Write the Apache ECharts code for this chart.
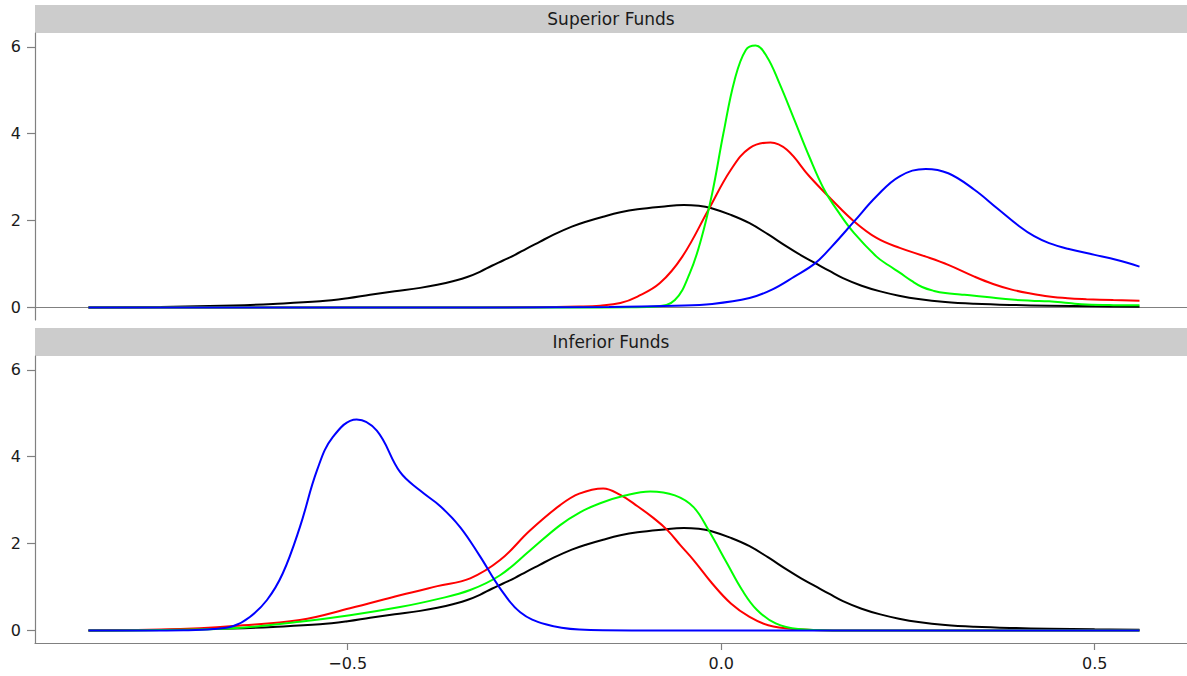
<!DOCTYPE html>
<html>
<head>
<meta charset="utf-8">
<title>Fund return densities</title>
<script src="https://cdn.jsdelivr.net/npm/echarts@6/dist/echarts.min.js"></script>
<style>
  html, body { margin: 0; padding: 0; background: #ffffff; }
  #chart { width: 1187px; height: 676px; }
</style>
</head>
<body>
<div id="chart"></div>
<script>
// Panel titles
const panelTitles = ['Superior Funds', 'Inferior Funds'];

// Tick values
const xTicks = [-0.5, 0, 0.5];
const yTicks = [0, 2, 4, 6];

// Density of all funds (black), same in both panels: [return, density]
const allFunds = [
  [-0.847, 0], [-0.75, 0.01], [-0.653, 0.045], [-0.6, 0.08], [-0.537, 0.14],
  [-0.5, 0.21], [-0.47, 0.29], [-0.437, 0.37], [-0.403, 0.45], [-0.38, 0.52],
  [-0.358, 0.61], [-0.34, 0.70], [-0.323, 0.82], [-0.307, 0.96], [-0.292, 1.08],
  [-0.276, 1.21], [-0.261, 1.35], [-0.243, 1.51], [-0.225, 1.67], [-0.2, 1.86],
  [-0.18, 1.98], [-0.158, 2.09], [-0.135, 2.19], [-0.112, 2.26], [-0.08, 2.32],
  [-0.05, 2.36], [-0.03, 2.34], [-0.014, 2.29], [0.013, 2.13], [0.038, 1.94],
  [0.063, 1.68], [0.088, 1.40], [0.107, 1.20], [0.126, 1.02], [0.145, 0.84],
  [0.163, 0.676], [0.188, 0.50], [0.213, 0.369], [0.238, 0.27], [0.264, 0.193],
  [0.3, 0.125], [0.339, 0.085], [0.39, 0.056], [0.439, 0.04], [0.5, 0.025],
  [0.56, 0.016]
];

// Superior funds
const supRed = [
  [-0.847, 0], [-0.6, 0], [-0.4, 0], [-0.25, 0.005], [-0.19, 0.02], [-0.162, 0.04],
  [-0.135, 0.10], [-0.112, 0.25], [-0.082, 0.56], [-0.052, 1.17], [-0.017, 2.25],
  [0.013, 3.17], [0.038, 3.67], [0.066, 3.80], [0.088, 3.63], [0.118, 3.02],
  [0.148, 2.48], [0.178, 1.98], [0.208, 1.60], [0.239, 1.37], [0.274, 1.17],
  [0.304, 0.98], [0.339, 0.71], [0.364, 0.54], [0.389, 0.41], [0.414, 0.32],
  [0.439, 0.25], [0.464, 0.21], [0.489, 0.19], [0.525, 0.17], [0.56, 0.155]
];
const supGreen = [
  [-0.847, 0], [-0.6, 0], [-0.4, 0], [-0.2, 0], [-0.12, 0.005], [-0.087, 0.02],
  [-0.062, 0.17], [-0.042, 0.79], [-0.027, 1.56], [-0.012, 2.63], [0.003, 4.01],
  [0.018, 5.24], [0.033, 5.93], [0.046, 6.03], [0.061, 5.78], [0.078, 5.16],
  [0.098, 4.32], [0.118, 3.47], [0.138, 2.71], [0.158, 2.17], [0.178, 1.71],
  [0.208, 1.17], [0.224, 0.97], [0.239, 0.80], [0.255, 0.61], [0.269, 0.47],
  [0.285, 0.38], [0.3, 0.33], [0.32, 0.30], [0.339, 0.27], [0.365, 0.22],
  [0.389, 0.18], [0.415, 0.155], [0.439, 0.14], [0.465, 0.10], [0.489, 0.065],
  [0.525, 0.052], [0.56, 0.05]
];
const supBlue = [
  [-0.847, 0], [-0.6, 0], [-0.3, 0], [-0.15, 0.01], [-0.062, 0.04], [-0.012, 0.08],
  [0.038, 0.215], [0.068, 0.41], [0.098, 0.71], [0.126, 1.02], [0.148, 1.40],
  [0.178, 1.98], [0.208, 2.56], [0.239, 3.02], [0.274, 3.19], [0.304, 3.09],
  [0.339, 2.71], [0.369, 2.29], [0.399, 1.87], [0.419, 1.64], [0.439, 1.48],
  [0.464, 1.35], [0.5, 1.21], [0.53, 1.09], [0.56, 0.94]
];

// Inferior funds
const infRed = [
  [-0.847, 0], [-0.75, 0.02], [-0.698, 0.05], [-0.653, 0.10], [-0.564, 0.24],
  [-0.497, 0.51], [-0.43, 0.81], [-0.38, 1.02], [-0.336, 1.2], [-0.296, 1.62],
  [-0.256, 2.3], [-0.216, 2.88], [-0.19, 3.15], [-0.158, 3.27], [-0.135, 3.12],
  [-0.112, 2.86], [-0.09, 2.58], [-0.072, 2.31], [-0.055, 1.97], [-0.037, 1.62],
  [-0.012, 1.08], [0.013, 0.62], [0.038, 0.31], [0.063, 0.12], [0.098, 0.03],
  [0.15, 0], [0.3, 0], [0.56, 0]
];
const infGreen = [
  [-0.847, 0], [-0.75, 0.01], [-0.653, 0.05], [-0.564, 0.2], [-0.497, 0.35],
  [-0.43, 0.54], [-0.38, 0.72], [-0.336, 0.93], [-0.296, 1.27], [-0.256, 1.84],
  [-0.216, 2.42], [-0.189, 2.72], [-0.162, 2.93], [-0.13, 3.10], [-0.095, 3.20],
  [-0.062, 3.11], [-0.037, 2.84], [-0.017, 2.31], [0.008, 1.54], [0.028, 0.93],
  [0.048, 0.47], [0.073, 0.16], [0.103, 0.03], [0.15, 0], [0.3, 0], [0.56, 0]
];
const infBlue = [
  [-0.847, 0], [-0.77, 0], [-0.72, 0.005], [-0.68, 0.03], [-0.653, 0.1], [-0.631, 0.31],
  [-0.608, 0.70], [-0.587, 1.31], [-0.564, 2.38], [-0.541, 3.69], [-0.52, 4.45],
  [-0.488, 4.86], [-0.461, 4.60], [-0.43, 3.65], [-0.403, 3.22], [-0.376, 2.86],
  [-0.349, 2.37], [-0.323, 1.71], [-0.296, 0.97], [-0.269, 0.42], [-0.235, 0.14],
  [-0.19, 0.02], [-0.12, 0], [0.1, 0], [0.3, 0], [0.56, 0]
];

const FONT = 'DejaVu Sans';
const AXIS_GRAY = '#808080';
const TEXT = '#1a1a1a';
const X_MIN = -0.9186, X_MAX = 0.6236;
const Y_MIN = -0.29, Y_MAX = 6.32;

const grids = [
  { left: 35, right: 0, top: 33, height: 287 },
  { left: 35, right: 0, top: 356, height: 287 }
];

function xAxis(i) {
  const bottom = i === 1;
  return {
    type: 'value', gridIndex: i, min: X_MIN, max: X_MAX,
    splitLine: { show: false },
    axisLine: { show: true, onZero: !bottom, lineStyle: { color: AXIS_GRAY, width: 1.2 } },
    axisTick: { show: bottom, length: 7, customValues: xTicks, lineStyle: { color: AXIS_GRAY, width: 1.2 } },
    axisLabel: {
      show: bottom, customValues: xTicks, margin: 12,
      fontFamily: FONT, fontSize: 16, color: TEXT,
      formatter: v => (v < 0 ? '\u2212' : '') + Math.abs(v).toFixed(1)
    }
  };
}

function yAxis(i) {
  return {
    type: 'value', gridIndex: i, min: Y_MIN, max: Y_MAX,
    splitLine: { show: false },
    axisLine: { show: true, onZero: false, lineStyle: { color: AXIS_GRAY, width: 1.2 } },
    axisTick: { show: true, length: 8, customValues: yTicks, lineStyle: { color: AXIS_GRAY, width: 1.2 } },
    axisLabel: {
      customValues: yTicks, margin: 14,
      fontFamily: FONT, fontSize: 16, color: TEXT,
      formatter: v => String(v)
    }
  };
}

function line(name, data, color, i) {
  return {
    type: 'line', name, data, xAxisIndex: i, yAxisIndex: i,
    showSymbol: false, smooth: 0.4,
    lineStyle: { color, width: 2 }, silent: true
  };
}

// Grey strip headers above each panel
const strips = grids.map((g, i) => ({
  type: 'group',
  children: [
    { type: 'rect', shape: { x: 35, y: g.top - 28, width: 1152, height: 28 },
      style: { fill: '#cccccc' } },
    { type: 'text', x: 611, y: g.top - 14,
      style: { text: panelTitles[i], fontFamily: FONT, fontSize: 17, fill: TEXT,
               align: 'center', verticalAlign: 'middle' } }
  ]
}));

const chart = echarts.init(document.getElementById('chart'), null, { renderer: 'svg' });
chart.setOption({
  animation: false,
  backgroundColor: '#ffffff',
  grid: grids,
  xAxis: [xAxis(0), xAxis(1)],
  yAxis: [yAxis(0), yAxis(1)],
  graphic: strips,
  series: [
    line('All funds', allFunds, '#000000', 0),
    line('Superior, model A', supRed, '#ff0000', 0),
    line('Superior, model B', supGreen, '#00ff00', 0),
    line('Superior, model C', supBlue, '#0000ff', 0),
    line('All funds', allFunds, '#000000', 1),
    line('Inferior, model A', infRed, '#ff0000', 1),
    line('Inferior, model B', infGreen, '#00ff00', 1),
    line('Inferior, model C', infBlue, '#0000ff', 1)
  ]
});
</script>
</body>
</html>
